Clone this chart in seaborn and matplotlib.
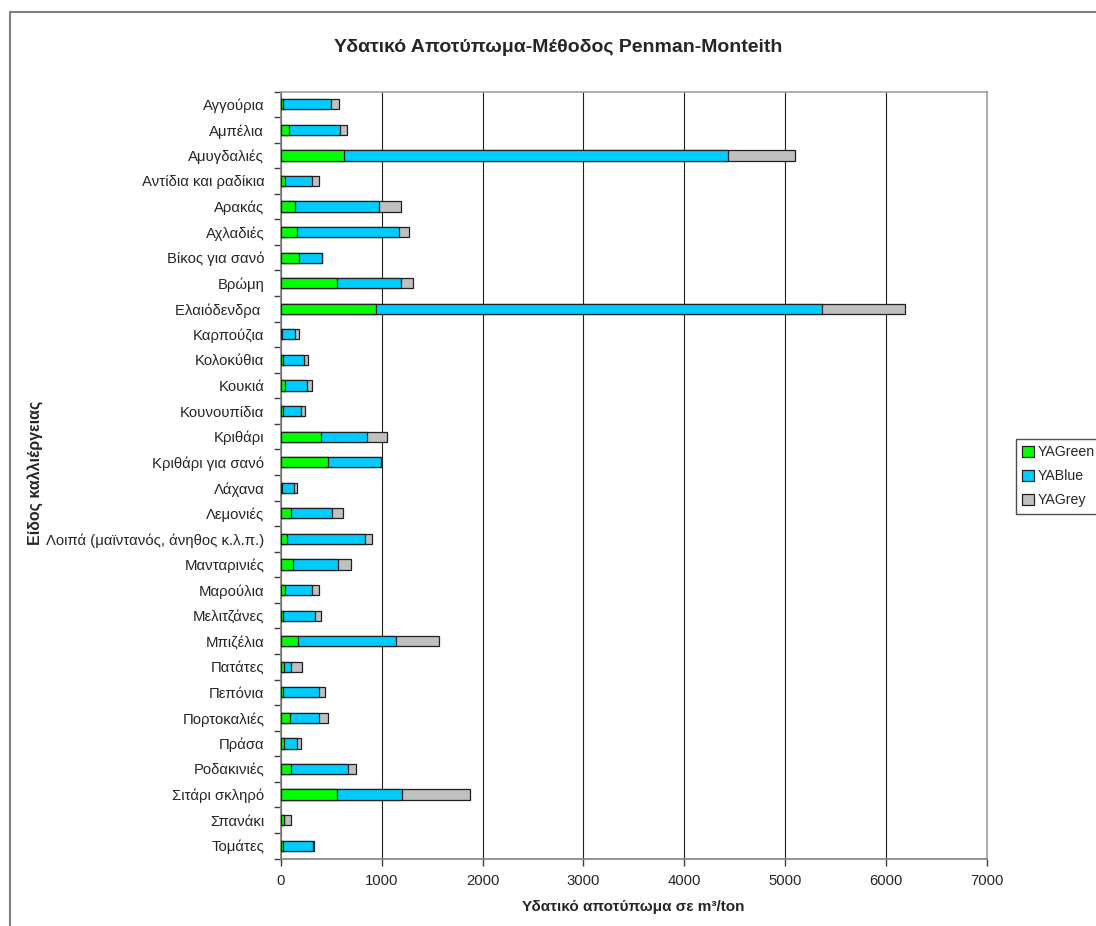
import numpy as np
import pandas as pd
import matplotlib
matplotlib.use("Agg")
import matplotlib.pyplot as plt
from matplotlib.patches import Patch
from matplotlib.lines import Line2D
import seaborn as sns

crops = ["Αγγούρια", "Αμπέλια", "Αμυγδαλιές", "Αντίδια και ραδίκια", "Αρακάς",
         "Αχλαδιές", "Βίκος για σανό", "Βρώμη", "Ελαιόδενδρα ", "Καρπούζια",
         "Κολοκύθια", "Κουκιά", "Κουνουπίδια", "Κριθάρι", "Κριθάρι για σανό",
         "Λάχανα", "Λεμονιές", "Λοιπά (μαϊντανός, άνηθος κ.λ.π.)", "Μανταρινιές",
         "Μαρούλια", "Μελιτζάνες", "Μπιζέλια", "Πατάτες", "Πεπόνια",
         "Πορτοκαλιές", "Πράσα", "Ροδακινιές", "Σιτάρι σκληρό", "Σπανάκι", "Τομάτες"]

ya_green = [20, 76, 625, 37, 136, 156, 183, 558, 944, 13,
            17, 37, 17, 395, 465, 7, 103, 63, 120, 37,
            17, 166, 27, 17, 86, 27, 100, 558, 27, 17]
ya_blue = [475, 509, 3815, 275, 837, 1017, 222, 635, 4423, 123,
           212, 219, 186, 459, 528, 123, 405, 771, 445, 275,
           322, 974, 73, 362, 293, 129, 564, 645, 3, 299]
ya_grey = [76, 66, 660, 63, 220, 96, 0, 119, 826, 47,
           37, 50, 36, 202, 0, 26, 107, 66, 133, 63,
           56, 431, 106, 56, 89, 40, 80, 677, 70, 16]

series_names = ["YAGreen", "YABlue", "YAGrey"]
colors = ["#00FF00", "#00CCFF", "#C0C0C0"]

g = np.array(ya_green, dtype=float)
b = np.array(ya_blue, dtype=float)
r = np.array(ya_grey, dtype=float)
df = pd.DataFrame({"crop": crops, "c1": g, "c2": g + b, "c3": g + b + r})

sns.set_theme(style="white")
plt.rcParams["font.family"] = ["Liberation Sans", "DejaVu Sans"]

fig = plt.figure(figsize=(10.96, 9.26), dpi=100)
ax = fig.add_axes([281/1096, 1 - 858.5/926, (986.5-281)/1096, (858.5-91.5)/926])

for col, c in zip(["c3", "c2", "c1"], colors[::-1]):
    sns.barplot(data=df, x=col, y="crop", orient="h", color=c, width=0.4,
                edgecolor="#202020", linewidth=0.9, saturation=1, ax=ax, zorder=3)

ax.set_xlim(0, 7000)
ax.set_ylim(len(crops) - 0.5, -0.5)
ax.set_xticks(np.arange(0, 7001, 1000))
ax.set_xticklabels([str(v) for v in range(0, 7001, 1000)], fontsize=10.7)
ax.set_yticks(np.arange(len(crops)))
ax.set_yticklabels(crops, fontsize=10.7)
ax.set_yticks(np.arange(len(crops) + 1) - 0.5, minor=True)
ax.tick_params(axis="y", which="major", length=0, pad=12)
ax.tick_params(axis="y", which="minor", length=5, width=1, color="#404040", left=True)
ax.tick_params(axis="x", which="major", length=5, width=1, color="#404040", bottom=True, pad=6)
ax.xaxis.grid(True, color="#202020", linewidth=0.8, zorder=0)
ax.yaxis.grid(False)
ax.set_axisbelow(True)

for s in ["left", "bottom"]:
    ax.spines[s].set_color("#808080")
    ax.spines[s].set_linewidth(1.2)
for s in ["top", "right"]:
    ax.spines[s].set_color("#A0A0A0")
    ax.spines[s].set_linewidth(1.2)

ax.set_xlabel("Υδατικό αποτύπωμα σε m³/ton", fontsize=11, fontweight="bold", labelpad=9)
ax.set_ylabel("")
fig.text(35/1096, 1 - 473/926, "Είδος καλλιέργειας", rotation=90, fontsize=11.5,
         fontweight="bold", ha="center", va="center")
fig.text(558/1096, 1 - 47/926, "Υδατικό Αποτύπωμα-Μέθοδος Penman-Monteith",
         fontsize=14, fontweight="bold", ha="center", va="center")

handles = [Patch(facecolor=c, edgecolor="#202020", linewidth=0.9, label=n)
           for c, n in zip(colors, series_names)]
leg = fig.legend(handles=handles, loc="upper left", bbox_to_anchor=(1016/1096, 1 - 439/926),
                 fontsize=10.2, frameon=True, fancybox=False, handlelength=0.8,
                 handleheight=0.8, handletextpad=0.3, borderpad=0.45, labelspacing=0.7,
                 borderaxespad=0)
leg.get_frame().set_edgecolor("#202020")
leg.get_frame().set_linewidth(1.0)

# chart area border
fig.add_artist(Line2D([9.5/1096, 9.5/1096], [0, 1 - 12/926], color="#808080", lw=1.5))
fig.add_artist(Line2D([9.5/1096, 1], [1 - 12/926, 1 - 12/926], color="#808080", lw=1.5))

fig.savefig("out.png", dpi=100)
